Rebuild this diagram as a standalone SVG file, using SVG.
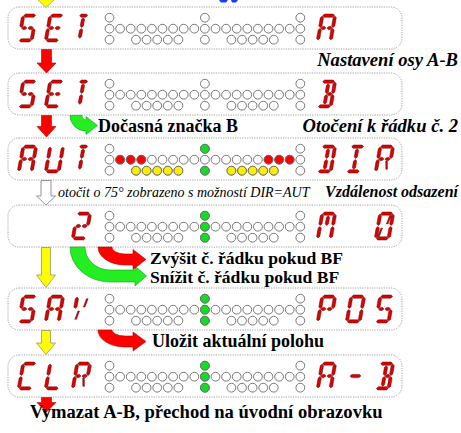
<svg xmlns="http://www.w3.org/2000/svg" xmlns:xlink="http://www.w3.org/1999/xlink" width="461" height="433" viewBox="0 0 461 433">
<style>
.box{fill:#fff;stroke:#8a8a8a;stroke-width:0.8;stroke-dasharray:1.2 1.2}
.led{stroke:#6a6a6a;stroke-width:0.9}
.w{fill:#fff}.r{fill:#ff0000}.y{fill:#ffee00}.g{fill:#11dd22}
.seg{fill:#e00000;stroke:#4a0000;stroke-width:0.45}
.ar{fill:#ff0000;stroke:#b00000;stroke-width:0.6}
.ay{fill:#ffff00;stroke:#8a8a60;stroke-width:0.7}
.ah{fill:#fff;stroke:#777;stroke-width:0.8}
.ag{fill:#22ee22;stroke:#10a010;stroke-width:0.6}
.tb{font-family:Liberation Serif,serif;font-weight:bold;font-size:18px;fill:#000}
.tbi{font-family:Liberation Serif,serif;font-weight:bold;font-style:italic;font-size:18.6px;fill:#000}
.ti{font-family:Liberation Serif,serif;font-style:italic;font-size:14px;fill:#000}
</style>
<defs>
<polygon id="sa" points="2.1,-26.4 3.7,-28 12.3,-28 13.9,-26.4 12.3,-24.8 3.7,-24.8"/>
<polygon id="sd" points="2.1,-1.6 3.7,-3.2 12.3,-3.2 13.9,-1.6 12.3,0 3.7,0"/>
<polygon id="sg1" points="2.1,-14 3.7,-15.6 5.9,-15.6 7.5,-14 5.9,-12.4 3.7,-12.4"/>
<polygon id="sg2" points="8.5,-14 10.1,-15.6 12.3,-15.6 13.9,-14 12.3,-12.4 10.1,-12.4"/>
<polygon id="sgm" points="2.6,-14 4.2,-15.6 11.8,-15.6 13.4,-14 11.8,-12.4 4.2,-12.4"/>
<polygon id="sf" points="1.6,-25.9 3.2,-24.3 3.2,-16.1 1.6,-14.5 0,-16.1 0,-24.3"/>
<polygon id="se" points="1.6,-13.5 3.2,-11.9 3.2,-3.7 1.6,-2.1 0,-3.7 0,-11.9"/>
<polygon id="sb" points="14.4,-25.9 16,-24.3 16,-16.1 14.4,-14.5 12.8,-16.1 12.8,-24.3"/>
<polygon id="sc" points="14.4,-13.5 16,-11.9 16,-3.7 14.4,-2.1 12.8,-3.7 12.8,-11.9"/>
<polygon id="sh" points="8,-24.3 9.6,-22.7 9.6,-16.1 8,-14.5 6.4,-16.1 6.4,-22.7"/>
<polygon id="si" points="8,-13.5 9.6,-11.9 9.6,-5.3 8,-3.7 6.4,-5.3 6.4,-11.9"/>
<polygon id="sat" points="4,-26.4 5.6,-28 10.4,-28 12,-26.4 10.4,-24.8 5.6,-24.8"/>
<polygon id="dur" points="9.6,-16 11.2,-16 12.8,-24.3 11.2,-24.3"/>
<polygon id="dlr" points="9.6,-12 11.2,-12 12.8,-3.7 11.2,-3.7"/>
<polygon id="dll" points="6.4,-12 4.8,-12 3.2,-3.7 4.8,-3.7"/>
<g id="cS" class="seg"><use href="#sa"/><use href="#sf"/><use href="#sg1"/><use href="#sg2"/><use href="#sc"/><use href="#sd"/></g>
<g id="cE" class="seg"><use href="#sa"/><use href="#sf"/><use href="#se"/><use href="#sg1"/><use href="#sg2"/><use href="#sd"/></g>
<g id="cT" class="seg"><use href="#sat"/><use href="#sh"/><use href="#si"/></g>
<g id="cA" class="seg"><use href="#sa"/><use href="#sb"/><use href="#sc"/><use href="#se"/><use href="#sf"/><use href="#sg1"/><use href="#sg2"/></g>
<g id="cB" class="seg"><use href="#sa"/><use href="#sb"/><use href="#sc"/><use href="#sd"/><use href="#sg2"/><use href="#sh"/><use href="#si"/></g>
<g id="cU" class="seg"><use href="#sb"/><use href="#sc"/><use href="#sd"/><use href="#se"/><use href="#sf"/></g>
<g id="cD" class="seg"><use href="#sa"/><use href="#sb"/><use href="#sc"/><use href="#sd"/><use href="#sh"/><use href="#si"/></g>
<g id="cI" class="seg"><use href="#sa"/><use href="#sh"/><use href="#si"/><use href="#sd"/></g>
<g id="cR" class="seg"><use href="#sa"/><use href="#sb"/><use href="#sf"/><use href="#se"/><use href="#sg1"/><use href="#sg2"/><use href="#dlr"/></g>
<g id="c2" class="seg"><use href="#sa"/><use href="#sb"/><use href="#sg1"/><use href="#sg2"/><use href="#se"/><use href="#sd"/></g>
<g id="cM" class="seg"><use href="#sa"/><use href="#sb"/><use href="#sc"/><use href="#se"/><use href="#sf"/><use href="#sh"/></g>
<g id="c0" class="seg"><use href="#sa"/><use href="#sb"/><use href="#sc"/><use href="#sd"/><use href="#se"/><use href="#sf"/><use href="#dur"/><use href="#dll"/></g>
<g id="cV" class="seg"><use href="#sf"/><use href="#dll"/><use href="#dur"/></g>
<g id="cP" class="seg"><use href="#sa"/><use href="#sb"/><use href="#sf"/><use href="#se"/><use href="#sg1"/><use href="#sg2"/></g>
<g id="cO" class="seg"><use href="#sa"/><use href="#sb"/><use href="#sc"/><use href="#sd"/><use href="#se"/><use href="#sf"/></g>
<g id="cC" class="seg"><use href="#sa"/><use href="#sf"/><use href="#se"/><use href="#sd"/></g>
<g id="cL" class="seg"><use href="#sf"/><use href="#se"/><use href="#sd"/></g>
<g id="cDash" class="seg"><use href="#sgm"/></g>
<rect id="frame" class="box" x="8" y="0" width="394" height="42" rx="11"/>
<g id="leds" class="led w">
<circle cx="109.5" cy="10.7" r="4.4"/><circle cx="204.9" cy="10.7" r="4.4"/><circle cx="300.3" cy="10.7" r="4.4"/>
<circle cx="109.5" cy="21.7" r="4.4"/><circle cx="120.1" cy="21.7" r="4.4"/><circle cx="130.7" cy="21.7" r="4.4"/><circle cx="141.3" cy="21.7" r="4.4"/><circle cx="151.9" cy="21.7" r="4.4"/><circle cx="162.5" cy="21.7" r="4.4"/><circle cx="173.1" cy="21.7" r="4.4"/><circle cx="183.7" cy="21.7" r="4.4"/><circle cx="194.3" cy="21.7" r="4.4"/><circle cx="204.9" cy="21.7" r="4.4"/><circle cx="215.5" cy="21.7" r="4.4"/><circle cx="226.1" cy="21.7" r="4.4"/><circle cx="236.7" cy="21.7" r="4.4"/><circle cx="247.3" cy="21.7" r="4.4"/><circle cx="257.9" cy="21.7" r="4.4"/><circle cx="268.5" cy="21.7" r="4.4"/><circle cx="279.1" cy="21.7" r="4.4"/><circle cx="289.7" cy="21.7" r="4.4"/><circle cx="300.3" cy="21.7" r="4.4"/>
<circle cx="109.5" cy="32.7" r="4.4"/><circle cx="136" cy="32.7" r="4.4"/><circle cx="146.6" cy="32.7" r="4.4"/><circle cx="157.2" cy="32.7" r="4.4"/><circle cx="167.8" cy="32.7" r="4.4"/><circle cx="178.4" cy="32.7" r="4.4"/><circle cx="204.9" cy="32.7" r="4.4"/><circle cx="231.4" cy="32.7" r="4.4"/><circle cx="242" cy="32.7" r="4.4"/><circle cx="252.6" cy="32.7" r="4.4"/><circle cx="263.2" cy="32.7" r="4.4"/><circle cx="273.8" cy="32.7" r="4.4"/><circle cx="300.3" cy="32.7" r="4.4"/>
</g>
<g id="green3" class="led g">
<circle cx="204.9" cy="10.7" r="4.4"/><circle cx="204.9" cy="21.7" r="4.4"/><circle cx="204.9" cy="32.7" r="4.4"/>
</g>
</defs>
<rect width="461" height="433" fill="#fff"/>

<g id="row1" transform="translate(0,7)">
<use href="#frame"/><use href="#leds"/>
<use href="#cS" transform="translate(17,35) skewX(-10)"/>
<use href="#cE" transform="translate(44,35) skewX(-10)"/>
<use href="#cT" transform="translate(71,35) skewX(-10)"/>
<use href="#cA" transform="translate(316,35) skewX(-10)"/>
</g>

<g id="row2" transform="translate(0,73)">
<use href="#frame"/><use href="#leds"/>
<use href="#cS" transform="translate(17,35) skewX(-10)"/>
<use href="#cE" transform="translate(44,35) skewX(-10)"/>
<use href="#cT" transform="translate(71,35) skewX(-10)"/>
<use href="#cB" transform="translate(316,35) skewX(-10)"/>
</g>

<g id="row3" transform="translate(0,138)">
<use href="#frame"/><use href="#leds"/>
<g class="led r"><circle cx="120.1" cy="21.7" r="4.4"/><circle cx="130.7" cy="21.7" r="4.4"/><circle cx="141.3" cy="21.7" r="4.4"/><circle cx="268.5" cy="21.7" r="4.4"/><circle cx="279.1" cy="21.7" r="4.4"/><circle cx="289.7" cy="21.7" r="4.4"/></g>
<g class="led y"><circle cx="136" cy="32.7" r="4.4"/><circle cx="146.6" cy="32.7" r="4.4"/><circle cx="157.2" cy="32.7" r="4.4"/><circle cx="167.8" cy="32.7" r="4.4"/><circle cx="178.4" cy="32.7" r="4.4"/><circle cx="231.4" cy="32.7" r="4.4"/><circle cx="242" cy="32.7" r="4.4"/><circle cx="252.6" cy="32.7" r="4.4"/><circle cx="263.2" cy="32.7" r="4.4"/><circle cx="273.8" cy="32.7" r="4.4"/></g>
<g class="led g"><circle cx="204.9" cy="10.7" r="4.4"/><circle cx="204.9" cy="32.7" r="4.4"/></g>
<use href="#cA" transform="translate(17,35) skewX(-10)"/>
<use href="#cU" transform="translate(44,35) skewX(-10)"/>
<use href="#cT" transform="translate(71,35) skewX(-10)"/>
<use href="#cD" transform="translate(316,35) skewX(-10)"/>
<use href="#cI" transform="translate(345,35) skewX(-10)"/>
<use href="#cR" transform="translate(374,35) skewX(-10)"/>
</g>

<g id="row4" transform="translate(0,205)">
<use href="#frame"/><use href="#leds"/><use href="#green3"/>
<use href="#c2" transform="translate(71,35) skewX(-10)"/>
<use href="#cM" transform="translate(316,35) skewX(-10)"/>
<use href="#c0" transform="translate(374,35) skewX(-10)"/>
</g>

<g id="row5" transform="translate(0,288)">
<use href="#frame"/><use href="#leds"/><use href="#green3"/>
<use href="#cS" transform="translate(17,35) skewX(-10)"/>
<use href="#cA" transform="translate(44,35) skewX(-10)"/>
<use href="#cV" transform="translate(71,35) skewX(-10)"/>
<use href="#cP" transform="translate(316,35) skewX(-10)"/>
<use href="#cO" transform="translate(345,35) skewX(-10)"/>
<use href="#cS" transform="translate(374,35) skewX(-10)"/>
</g>

<g id="row6" transform="translate(0,355)">
<use href="#frame"/><use href="#leds"/><use href="#green3"/>
<use href="#cC" transform="translate(17,35) skewX(-10)"/>
<use href="#cL" transform="translate(44,35) skewX(-10)"/>
<use href="#cR" transform="translate(71,35) skewX(-10)"/>
<use href="#cA" transform="translate(316,35) skewX(-10)"/>
<use href="#cDash" transform="translate(345,35) skewX(-10)"/>
<use href="#cB" transform="translate(374,35) skewX(-10)"/>
</g>

<g id="connectors">
<polygon class="ay" points="35,-3 57,-3 46,7.5"/>
<path fill="#1a3cff" d="M219,0 L228,0 L226,2.5 L221,2.5 Z M231,0 L238,0 L236,2.5 L232,2.5 Z"/>
<polygon class="ar" points="41.5,49.5 51.5,49.5 51.5,63 56,63 46.5,73 37,63 41.5,63"/>
<polygon class="ar" points="41.5,115.5 51.5,115.5 51.5,126.5 56,126.5 46.5,137 37,126.5 41.5,126.5"/>
<path class="ag" d="M70,115.5 A16,15.5 0 0 0 86,131 L86,134.5 L97.5,125.5 L86,116.5 L86,120 A4,4.5 0 0 1 82,115.5 Z"/>
<polygon class="ah" points="41,180.5 51,180.5 51,196 55.5,196 46,205 36.5,196 41,196"/>
<polygon class="ay" points="41.5,247.5 50.5,247.5 50.5,275 55.5,275 46,287.5 36.5,275 41.5,275"/>
<path class="ag" d="M70,247 A40,35 0 0 0 110,282 L135,282 L135,286 L146.5,276 L135,266 L135,270 L110,270 A25,23 0 0 1 85,247 Z"/>
<path class="ar" d="M98,247 A27,18 0 0 0 125,265 L133,265 L133,269.5 L146,259.5 L133,249.5 L133,254 L125,254 A13,7 0 0 1 112,247 Z"/>
<polygon class="ay" points="41.5,330.5 50.5,330.5 50.5,343 55.5,343 46,354.5 36.5,343 41.5,343"/>
<path class="ar" d="M98,330 A27,17 0 0 0 125,347 L133,347 L133,351 L146,341.5 L133,332 L133,336 L125,336 A13,6 0 0 1 112,330 Z"/>
<polygon class="ar" points="41.5,397.5 51.5,397.5 51.5,402.5 56,402.5 46.5,412 37,402.5 41.5,402.5"/>
</g>

<g id="labels">
<text class="tbi" x="458" y="66" text-anchor="end">Nastavení osy A-B</text>
<text class="tb" x="98" y="132">Dočasná značka B</text>
<text class="tbi" x="458" y="132" text-anchor="end">Otočení k řádku č. 2</text>
<text class="ti" x="58" y="197">otočit o 75° zobrazeno s možností DIR=AUT</text>
<text class="tbi" x="458" y="197" text-anchor="end" style="font-size:16px">Vzdálenost odsazení</text>
<text class="tb" x="150" y="263.5" style="font-size:17.6px">Zvýšit č. řádku pokud BF</text>
<text class="tb" x="150" y="282.5" style="font-size:17.6px">Snížit č. řádku pokud BF</text>
<text class="tb" x="152" y="347">Uložit aktuální polohu</text>
<text class="tb" x="30" y="418" style="font-size:18.6px">Vymazat A-B, přechod na úvodní obrazovku</text>
</g>
</svg>
